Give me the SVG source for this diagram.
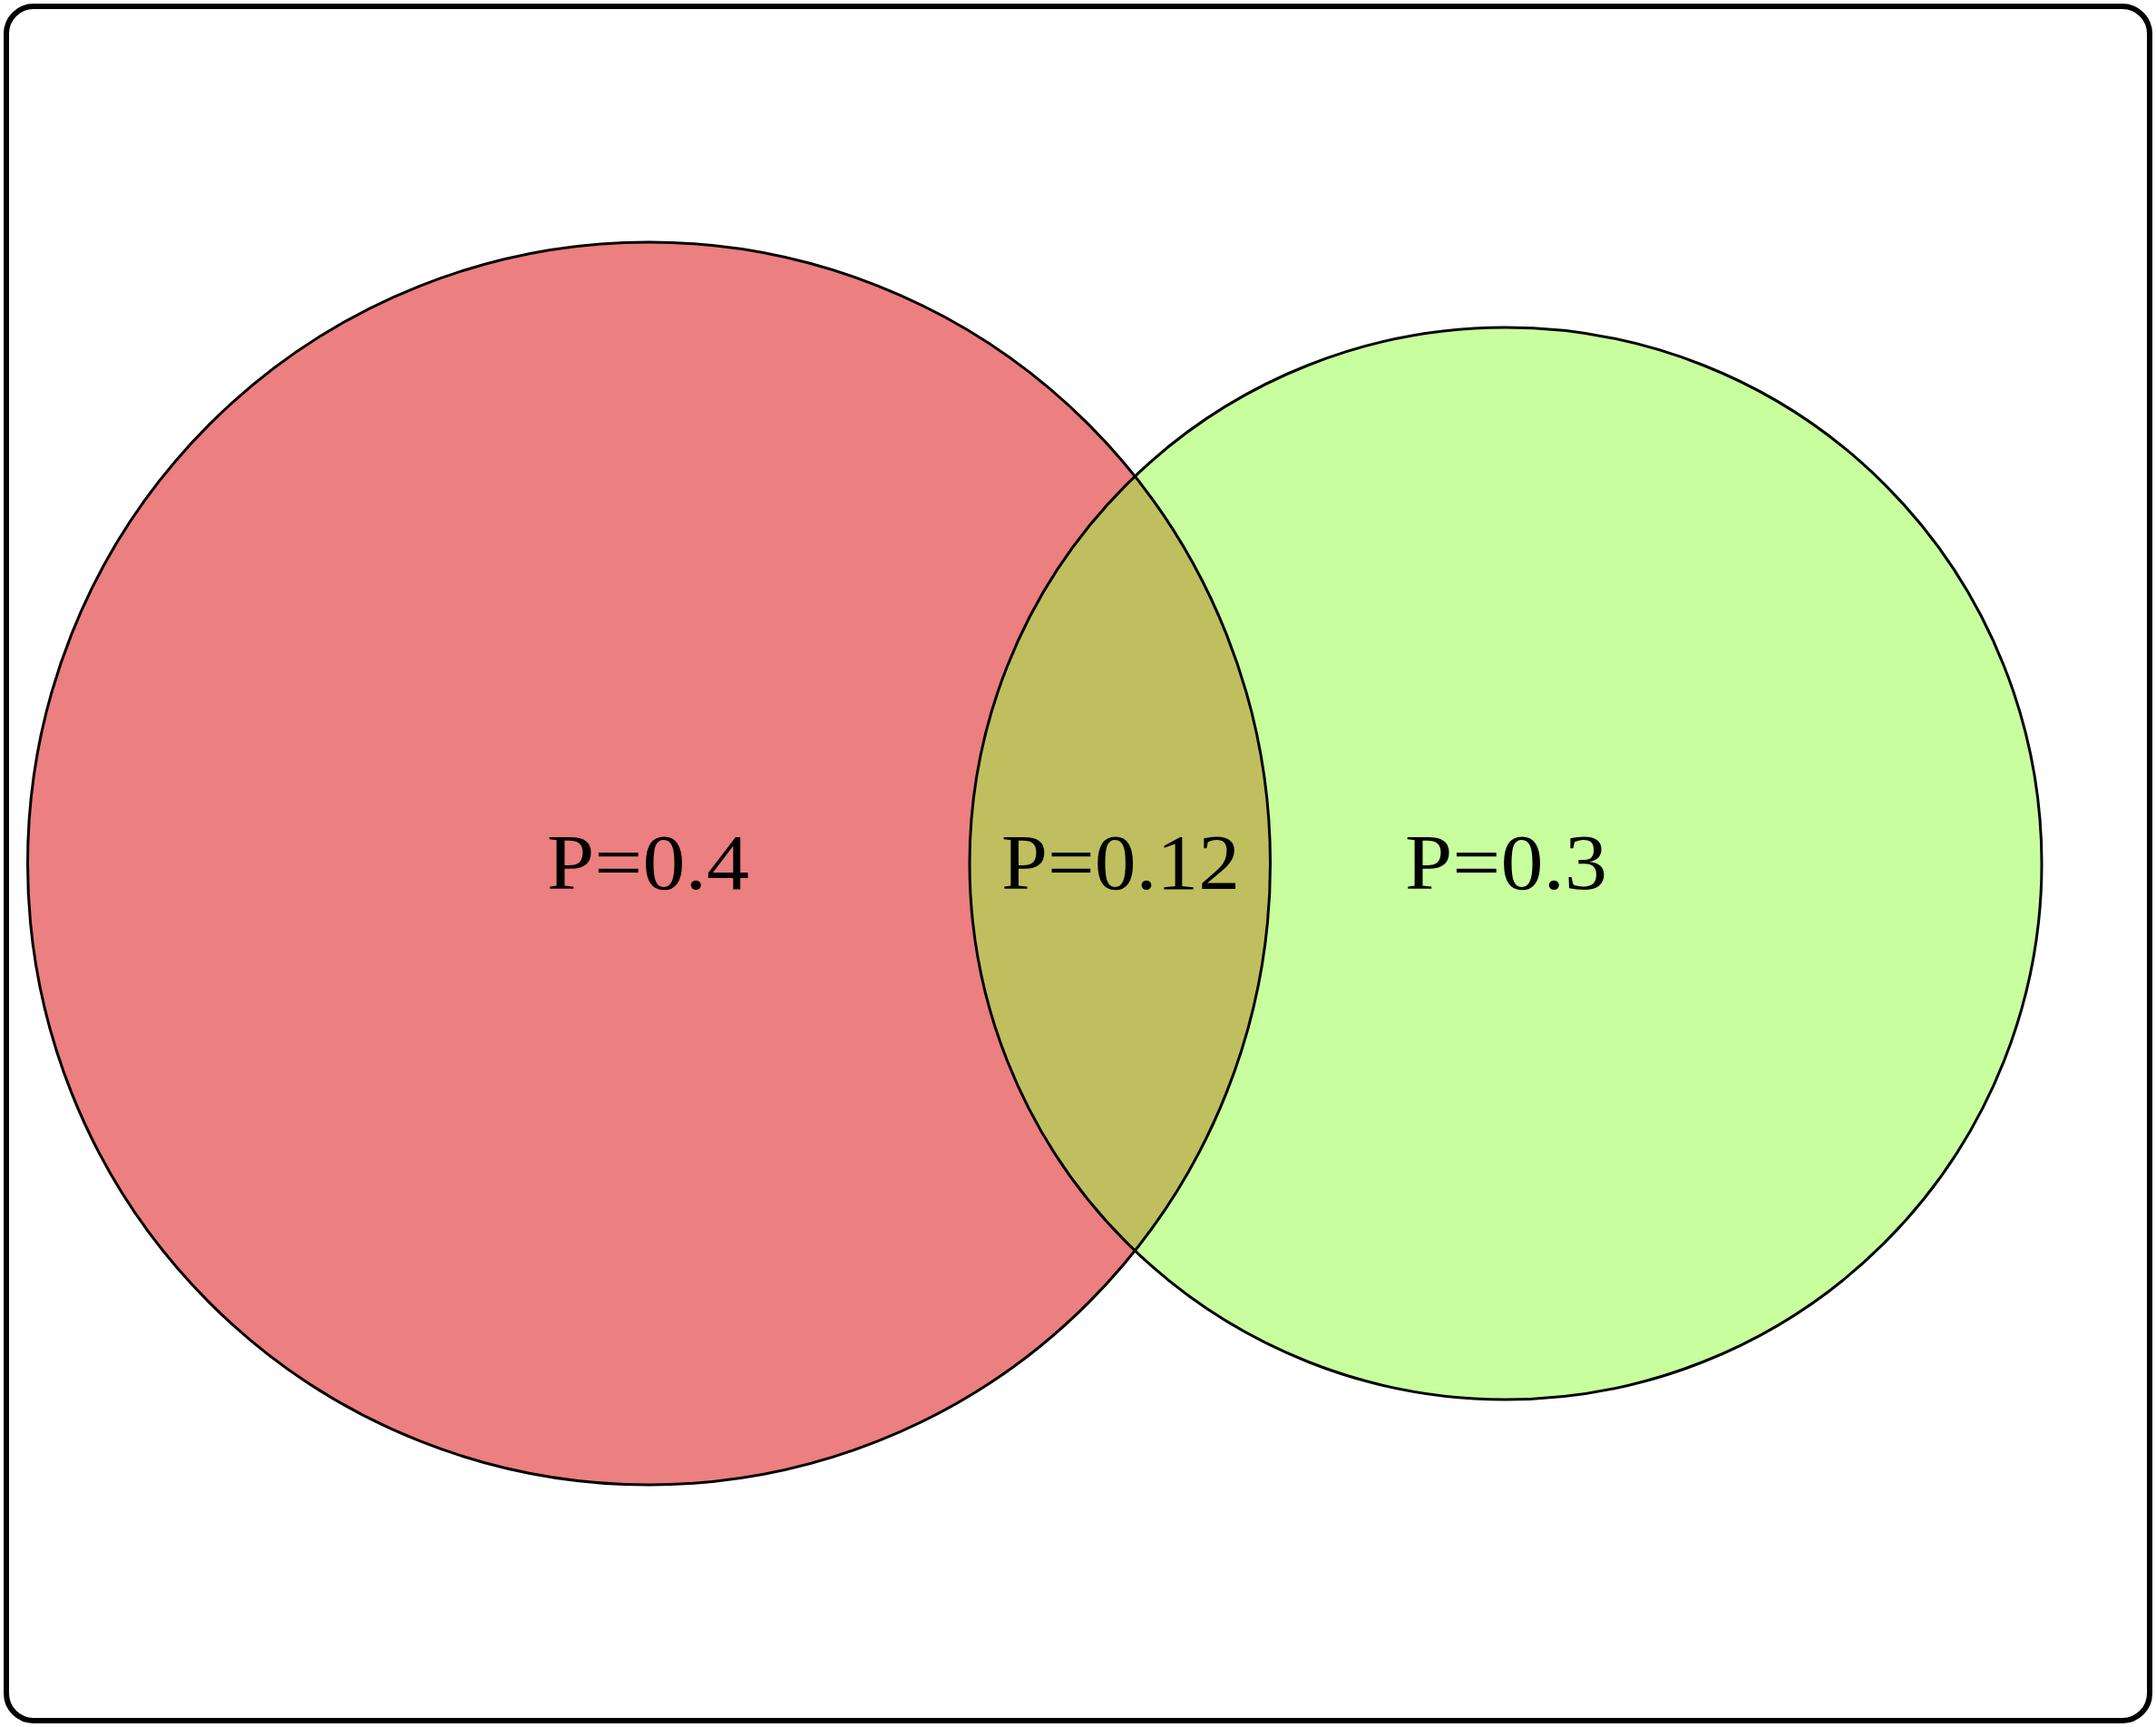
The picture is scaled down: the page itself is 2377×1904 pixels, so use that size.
<svg xmlns="http://www.w3.org/2000/svg" width="2377" height="1904" viewBox="0 0 2377 1904">
<style>
.frame{fill:#ffffff;stroke:#000000;stroke-width:6}
.ring{fill:none;stroke:#000000;stroke-width:3}
.lbl{font-family:"Liberation Serif","DejaVu Serif",serif;font-size:87px;fill:#000000}
</style>
<rect class="frame" x="7" y="7" width="2363" height="1890" rx="30" ry="30"/>
<g id="setA">
<circle cx="715.5" cy="952" r="685" fill="#EC7F7F"/>
</g>
<g id="setB">
<circle cx="1660" cy="952" r="591" fill="#C8FE9E"/>
</g>
<g id="intersection">
<path d="M1251.2 525.1 A591 591 0 0 0 1251.2 1378.9 A685 685 0 0 0 1251.2 525.1 Z" fill="#BFBF5F"/>
</g>
<g id="outlines">
<circle class="ring" cx="715.5" cy="952" r="685"/>
<circle class="ring" cx="1660" cy="952" r="591"/>
</g>
<g id="labels">
<text class="lbl" x="603" y="980" textLength="223" lengthAdjust="spacingAndGlyphs">P=0.4</text>
<text class="lbl" x="1104" y="980" textLength="263" lengthAdjust="spacingAndGlyphs">P=0.12</text>
<text class="lbl" x="1549" y="980" textLength="223" lengthAdjust="spacingAndGlyphs">P=0.3</text>
</g>
</svg>
